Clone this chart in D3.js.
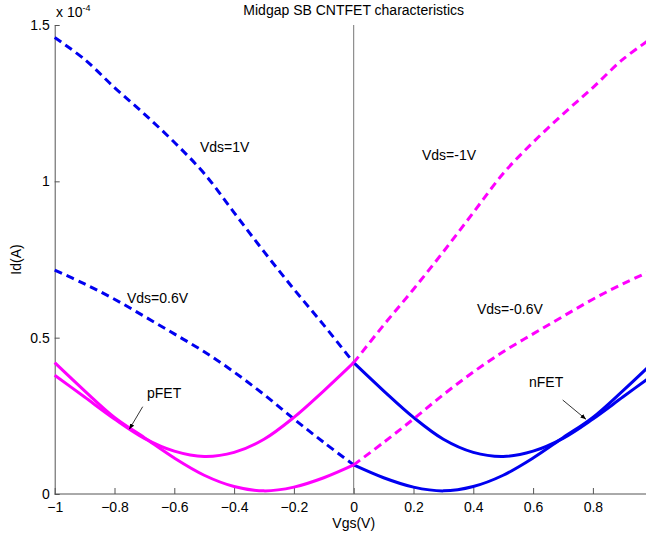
<!DOCTYPE html>
<html>
<head>
<meta charset="utf-8">
<script src="https://cdn.jsdelivr.net/npm/d3@7"></script>
<style>
  body { margin: 0; background: #fff; }
  svg { font-family: "Liberation Sans", Arial, sans-serif; }
  .axis path, .axis line { stroke: #555; }
  .axis text { font-size: 14px; fill: #000; }
  .lbl { font-size: 14px; fill: #000; }
</style>
</head>
<body>
<svg id="chart" width="646" height="539"></svg>
<script>
// gate voltage grid (V)
var vgs = [-1, -0.9, -0.8, -0.7, -0.6, -0.5, -0.4, -0.3, -0.2, -0.1, 0,
           0.1, 0.2, 0.3, 0.4, 0.5, 0.6, 0.7, 0.8, 0.9, 1];

// drain current, x 1e-4 A
var nVds1  = [1.46, 1.39, 1.30, 1.215, 1.125, 1.025, 0.90, 0.775, 0.655, 0.54, 0.42,
              0.33, 0.245, 0.175, 0.133, 0.12, 0.137, 0.178, 0.24, 0.31, 0.38];
var nVds06 = [0.716, 0.672, 0.623, 0.568, 0.512, 0.455, 0.39, 0.318, 0.24, 0.165, 0.093,
              0.052, 0.022, 0.01, 0.024, 0.06, 0.115, 0.18, 0.245, 0.33, 0.42];
var pVds1  = [0.38, 0.31, 0.24, 0.178, 0.137, 0.12, 0.133, 0.175, 0.245, 0.33, 0.42,
              0.54, 0.655, 0.775, 0.90, 1.025, 1.125, 1.215, 1.30, 1.39, 1.46];
var pVds06 = [0.42, 0.33, 0.245, 0.18, 0.115, 0.06, 0.024, 0.01, 0.022, 0.052, 0.093,
              0.165, 0.24, 0.318, 0.39, 0.455, 0.512, 0.568, 0.623, 0.672, 0.716];

var xTicks = [-1, -0.8, -0.6, -0.4, -0.2, 0, 0.2, 0.4, 0.6, 0.8];
var yTicks = [0, 0.5, 1, 1.5];

var blue = "#0000f0", magenta = "#ff00ff";

var svg = d3.select("#chart");

var x = d3.scaleLinear().domain([-1, 1]).range([54.7, 652.7]);
var y = d3.scaleLinear().domain([0, 1.5]).range([494, 25]);

// axes
svg.append("g")
   .attr("class", "axis")
   .attr("transform", "translate(0," + y(0) + ")")
   .call(d3.axisBottom(x).tickValues(xTicks).tickFormat(d3.format("")).tickSizeInner(-6).tickSizeOuter(0).tickPadding(8))
   .call(function (g) { g.select(".domain").attr("d", "M" + x(-1) + ",0H646"); });

svg.append("g")
   .attr("class", "axis")
   .attr("transform", "translate(" + x(-1) + ",0)")
   .call(d3.axisLeft(y).tickValues(yTicks).tickFormat(d3.format("")).tickSizeInner(-5).tickSizeOuter(0).tickPadding(5));

// vertical line at Vgs = 0
svg.append("line")
   .attr("x1", x(0)).attr("x2", x(0))
   .attr("y1", y(1.5)).attr("y2", y(0))
   .attr("stroke", "#777").attr("stroke-width", 1);

var line = d3.line()
   .x(function (d) { return x(d[0]); })
   .y(function (d) { return y(d[1]); })
   .curve(d3.curveCatmullRom);

function part(vals, neg) {
   var pts = [];
   vgs.forEach(function (v, i) {
      if ((neg && v <= 0) || (!neg && v >= 0)) pts.push([v, vals[i]]);
   });
   return pts;
}

var series = [
   {vals: nVds1, color: blue},
   {vals: nVds06, color: blue},
   {vals: pVds1, color: magenta},
   {vals: pVds06, color: magenta}
];

var plot = svg.append("g");
series.forEach(function (s) {
   var isN = s.color === blue;
   // n-type: dashed for Vgs<0, solid for Vgs>0; p-type the other way round
   plot.append("path")
       .attr("d", line(part(s.vals, true)))
       .attr("fill", "none").attr("stroke", s.color).attr("stroke-width", 3)
       .attr("stroke-dasharray", isN ? "8,5" : null);
   plot.append("path")
       .attr("d", line(part(s.vals, false)))
       .attr("fill", "none").attr("stroke", s.color).attr("stroke-width", 3)
       .attr("stroke-dasharray", isN ? null : "8,5");
});

// texts
svg.append("text").attr("class", "lbl").attr("x", x(0)).attr("y", 15)
   .attr("text-anchor", "middle").text("Midgap SB CNTFET characteristics");
svg.append("text").attr("class", "lbl").attr("x", 56).attr("y", 17)
   .html('x 10<tspan dy="-6" font-size="9">-4</tspan>');
svg.append("text").attr("class", "lbl").attr("x", x(0)).attr("y", 528)
   .attr("text-anchor", "middle").text("Vgs(V)");
svg.append("text").attr("class", "lbl")
   .attr("transform", "translate(21," + y(0.75) + ") rotate(-90)")
   .attr("text-anchor", "middle").text("Id(A)");

var notes = [
   {t: "Vds=1V", x: 200, y: 152},
   {t: "Vds=0.6V", x: 127, y: 303},
   {t: "Vds=-1V", x: 422, y: 160},
   {t: "Vds=-0.6V", x: 477, y: 314},
   {t: "pFET", x: 147, y: 398},
   {t: "nFET", x: 529, y: 387}
];
notes.forEach(function (n) {
   svg.append("text").attr("class", "lbl").attr("x", n.x).attr("y", n.y).text(n.t);
});

// arrows
svg.append("defs").append("marker")
   .attr("id", "arr").attr("viewBox", "0 0 10 10").attr("refX", 10).attr("refY", 5)
   .attr("markerWidth", 7).attr("markerHeight", 7).attr("orient", "auto")
   .append("path").attr("d", "M0,1L10,5L0,9z").attr("fill", "#000");

[[142.7, 406.7, 129.3, 429.3], [562.7, 400, 586, 419.3]].forEach(function (a) {
   svg.append("line")
      .attr("x1", a[0]).attr("y1", a[1]).attr("x2", a[2]).attr("y2", a[3])
      .attr("stroke", "#000").attr("stroke-width", 0.8)
      .attr("marker-end", "url(#arr)");
});
</script>
</body>
</html>
